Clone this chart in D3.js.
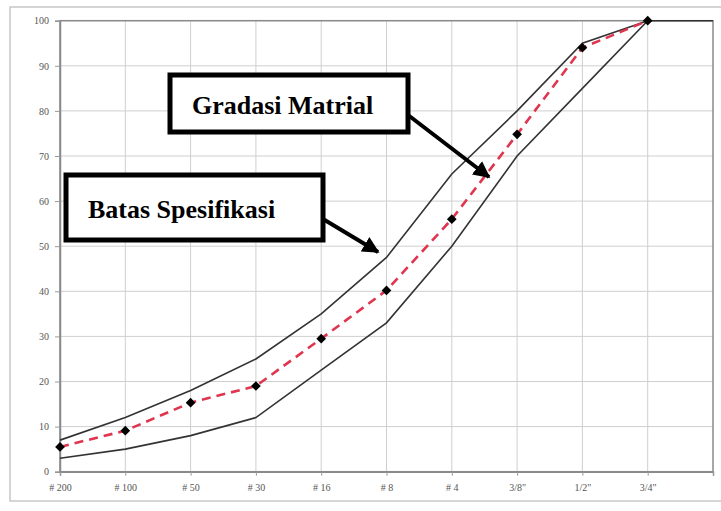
<!DOCTYPE html>
<html><head><meta charset="utf-8">
<script src="https://cdn.jsdelivr.net/npm/d3@7"></script>
<style>body{margin:0;background:#fff}svg{display:block}</style>
</head><body><svg id="c" width="721" height="511"></svg>
<script>
const categories = ["# 200","# 100","# 50","# 30","# 16","# 8","# 4","3/8\"","1/2\"","3/4\"",""];
const upperLimit = [7,12,18,25,35,47.5,66,80,95,100,100];
const lowerLimit = [3,5,8,12,22.5,33,50,70,85,100,null];
const gradation  = [5.5,9.1,15.3,19,29.5,40.2,56,74.8,94,100,null];
const yTicks = [0,10,20,30,40,50,60,70,80,90,100];
const notes = [
  {text:"Gradasi Matrial", box:[170,75,408,132], textPos:[192,114], from:[408,115], to:[489,177]},
  {text:"Batas Spesifikasi", box:[66,175,323,240], textPos:[88,218], from:[323,219], to:[378,252]}
];

(function(){
const SERIF = '"Liberation Serif","Times New Roman",serif';
const svg = d3.select("#c");
const pL=60, pR=713, pT=20.7, pB=471.7;
const x = d3.scalePoint().domain(categories).range([pL,pR]).padding(0);
const y = d3.scaleLinear().domain([0,100]).range([pB,pT]);

svg.append("rect").attr("x",10).attr("y",7).attr("width",712).attr("height",494)
  .attr("fill","none").attr("stroke","#c8c8c8").attr("stroke-width",1.5);

svg.append("g").selectAll("line").data(yTicks).join("line")
  .attr("x1",pL).attr("x2",pR).attr("y1",d=>y(d)).attr("y2",d=>y(d))
  .attr("stroke","#cfcfcf").attr("stroke-width",1);
svg.append("g").selectAll("line").data(categories.slice(0,-1)).join("line")
  .attr("x1",d=>x(d)).attr("x2",d=>x(d)).attr("y1",pT).attr("y2",pB)
  .attr("stroke","#cfcfcf").attr("stroke-width",1);

svg.append("rect").attr("x",pL).attr("y",pT).attr("width",pR-pL).attr("height",pB-pT)
  .attr("fill","none").attr("stroke","#8a8a8a").attr("stroke-width",1.5);

const yAxis = svg.append("g").attr("transform",`translate(${pL},0)`)
  .call(d3.axisLeft(y).tickValues(yTicks).tickSize(5).tickPadding(6).tickFormat(d3.format("d")));
const xAxis = svg.append("g").attr("transform",`translate(0,${pB})`)
  .call(d3.axisBottom(x).tickSize(4).tickPadding(8));
[yAxis,xAxis].forEach(g=>{
  g.attr("font-family",null);
  g.select(".domain").attr("stroke","#8a8a8a").attr("stroke-width",1.5);
  g.selectAll(".tick line").attr("stroke","#9a9a9a");
  g.selectAll("text").style("font-family",SERIF).attr("font-size",10).attr("fill","#555");
});

const idx = d3.range(categories.length);
const lineFn = arr => d3.line().defined(i=>arr[i]!=null).x(i=>x(categories[i])).y(i=>y(arr[i]));
[upperLimit, lowerLimit].forEach(arr=>{
  svg.append("path").attr("d",lineFn(arr)(idx)).attr("fill","none")
    .attr("stroke","#333").attr("stroke-width",1.6);
});
svg.append("path").attr("d",lineFn(gradation)(idx)).attr("fill","none")
  .attr("stroke","#e0354f").attr("stroke-width",2.6).attr("stroke-dasharray","9,6");
svg.append("g").selectAll("path").data(idx.filter(i=>gradation[i]!=null)).join("path")
  .attr("d",d3.symbol(d3.symbolDiamond2,60)())
  .attr("transform",i=>`translate(${x(categories[i])},${y(gradation[i])})`)
  .attr("fill","#000");

const defs = svg.append("defs");
defs.append("marker").attr("id","ah").attr("viewBox","0 0 10 10").attr("refX",9).attr("refY",5)
  .attr("markerWidth",4.2).attr("markerHeight",4.2).attr("orient","auto")
  .append("path").attr("d","M0,0 L10,5 L0,10 z").attr("fill","#000");
notes.forEach(n=>{
  svg.append("line").attr("x1",n.from[0]).attr("y1",n.from[1]).attr("x2",n.to[0]).attr("y2",n.to[1])
    .attr("stroke","#000").attr("stroke-width",4).attr("marker-end","url(#ah)");
  svg.append("rect").attr("x",n.box[0]).attr("y",n.box[1]).attr("width",n.box[2]-n.box[0]).attr("height",n.box[3]-n.box[1])
    .attr("fill","#fff").attr("stroke","#000").attr("stroke-width",5);
  svg.append("text").attr("x",n.textPos[0]).attr("y",n.textPos[1])
    .style("font-family",SERIF).attr("font-weight","bold")
    .attr("font-size",26).attr("fill","#000").text(n.text);
});
})();
</script></body></html>
